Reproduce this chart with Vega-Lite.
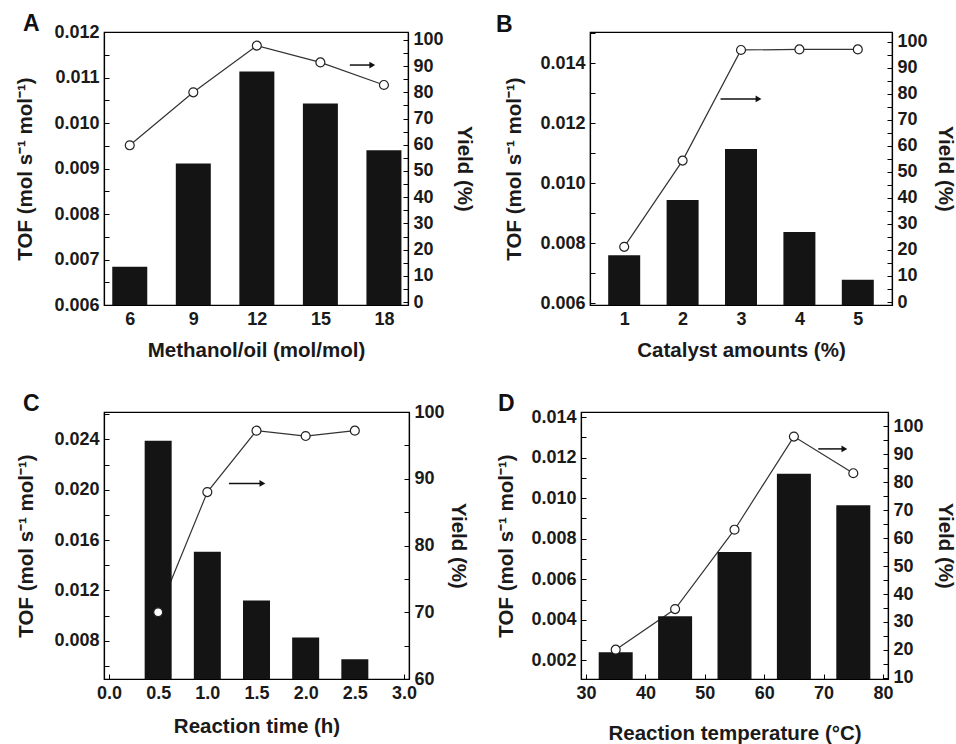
{
  "$schema": "https://vega.github.io/schema/vega-lite/v6.json",
  "padding": {"left": 15, "top": 12, "right": 5, "bottom": 5},
  "background": "white",
  "config": {
    "font": "Liberation Sans",
    "view": {"stroke": "black", "strokeWidth": 1.2},
    "axis": {
      "labelFont": "Liberation Sans", "labelFontWeight": "bold", "labelFontSize": 18, "labelColor": "#1a1a1a",
      "titleFont": "Liberation Sans", "titleFontSize": 20.5, "titleFontWeight": "bold", "titleColor": "#1a1a1a",
      "grid": false, "domainColor": "#000", "domainWidth": 1.2, "tickColor": "#000", "tickWidth": 1,
      "tickSize": -5, "labelPadding": 10, "labelFlush": false, "labelOverlap": false
    },
    "title": {"fontSize": 23, "fontWeight": "bold", "anchor": "start", "frame": "group", "color": "#111", "font": "Liberation Sans"}
  },
  "datasets": {
    "a": [
      {"x": 6, "tof": 0.00684, "yield": 59.8},
      {"x": 9, "tof": 0.00911, "yield": 80.0},
      {"x": 12, "tof": 0.01113, "yield": 97.8},
      {"x": 15, "tof": 0.01043, "yield": 91.4},
      {"x": 18, "tof": 0.0094, "yield": 82.8}
    ],
    "b": [
      {"x": 1, "tof": 0.0076, "yield": 21.2},
      {"x": 2, "tof": 0.00944, "yield": 54.3},
      {"x": 3, "tof": 0.01114, "yield": 96.8},
      {"x": 4, "tof": 0.00837, "yield": 97.0},
      {"x": 5, "tof": 0.00678, "yield": 97.0}
    ],
    "c": [
      {"x": 0.5, "tof": 0.0239, "yield": 70.0},
      {"x": 1.0, "tof": 0.01507, "yield": 88.0},
      {"x": 1.5, "tof": 0.0112, "yield": 97.2},
      {"x": 2.0, "tof": 0.00826, "yield": 96.4},
      {"x": 2.5, "tof": 0.00653, "yield": 97.2}
    ],
    "d": [
      {"x": 35, "tof": 0.0024, "yield": 20.1},
      {"x": 45, "tof": 0.00417, "yield": 34.6},
      {"x": 55, "tof": 0.00735, "yield": 63.0},
      {"x": 65, "tof": 0.0112, "yield": 96.3},
      {"x": 75, "tof": 0.00965, "yield": 83.2}
    ],
    "arrA": [{"x1": 16.39, "x2": 17.45, "y": 90.4}],
    "arrB": [{"x1": 2.65, "x2": 3.3, "y": 78}],
    "arrC": [{"x1": 1.22, "x2": 1.56, "y": 89.3}],
    "arrD": [{"x1": 69.1, "x2": 73.5, "y": 91.9}]
  },
  "spacing": 30,
  "vconcat": [
    {
      "bounds": "flush",
      "spacing": 182,
      "hconcat": [
        {
          "width": 304, "height": 273,
          "title": {"text": "A", "dx": -81, "offset": -13},
          "resolve": {"scale": {"y": "independent"}},
          "layer": [
            {
              "data": {"name": "a"},
              "mark": {"type": "line", "color": "#333", "strokeWidth": 1.2},
              "encoding": {
                "x": {"field": "x", "type": "quantitative", "scale": {"domain": [5.02, 18.9], "nice": false, "zero": false},
                  "axis": {"title": "Methanol/oil (mol/mol)", "values": [6, 7.5, 9, 10.5, 12, 13.5, 15, 16.5, 18], "labelExpr": "datum.value % 3 == 0 ? format(datum.value, '.0f') : ''", "titlePadding": 12}},
                "y": {"field": "yield", "type": "quantitative", "scale": {"domain": [-1.1, 103], "nice": false, "zero": false}, "axis": null}
              }
            },
            {
              "data": {"name": "a"},
              "mark": {"type": "bar", "color": "#141414", "size": 35, "clip": true},
              "encoding": {
                "x": {"field": "x", "type": "quantitative"},
                "y": {"field": "tof", "type": "quantitative", "scale": {"domain": [0.006, 0.012], "nice": false, "zero": false},
                  "axis": {"orient": "left", "title": "TOF (mol s⁻¹ mol⁻¹)", "values": [0.006, 0.0065, 0.007, 0.0075, 0.008, 0.0085, 0.009, 0.0095, 0.01, 0.0105, 0.011, 0.0115, 0.012],
                    "labelExpr": "abs(datum.value*1000 - round(datum.value*1000)) < 0.01 ? format(datum.value, '.3f') : ''", "titlePadding": 18}}
              }
            },
            {
              "data": {"name": "a"},
              "mark": {"type": "point", "shape": "circle", "filled": true, "fill": "white", "stroke": "#222", "strokeWidth": 1.2, "size": 80, "opacity": 1},
              "encoding": {
                "x": {"field": "x", "type": "quantitative"},
                "y": {"field": "yield", "type": "quantitative", "scale": {"domain": [-1.1, 103], "nice": false, "zero": false},
                  "axis": {"orient": "right", "title": "Yield (%)", "values": [0, 5, 10, 15, 20, 25, 30, 35, 40, 45, 50, 55, 60, 65, 70, 75, 80, 85, 90, 95, 100],
                    "labelExpr": "datum.value % 10 == 0 ? datum.label : ''", "titlePadding": 10}}
              }
            },
            {
              "data": {"name": "arrA"},
              "mark": {"type": "rule", "color": "#111", "strokeWidth": 1.5},
              "encoding": {
                "x": {"field": "x1", "type": "quantitative"},
                "x2": {"field": "x2"},
                "y": {"field": "y", "type": "quantitative", "scale": {"domain": [-1.1, 103], "nice": false, "zero": false}, "axis": null}
              }
            },
            {
              "data": {"name": "arrA"},
              "mark": {"type": "point", "shape": "triangle-right", "filled": true, "color": "#111", "size": 45, "opacity": 1},
              "encoding": {
                "x": {"field": "x2", "type": "quantitative"},
                "y": {"field": "y", "type": "quantitative", "scale": {"domain": [-1.1, 103], "nice": false, "zero": false}, "axis": null}
              }
            }
          ]
        },
        {
          "width": 302, "height": 273,
          "title": {"text": "B", "dx": -94, "offset": -13},
          "resolve": {"scale": {"y": "independent"}},
          "layer": [
            {
              "data": {"name": "b"},
              "mark": {"type": "line", "color": "#333", "strokeWidth": 1.2},
              "encoding": {
                "x": {"field": "x", "type": "quantitative", "scale": {"domain": [0.5, 5.5], "nice": false, "zero": false},
                  "axis": {"title": "Catalyst amounts (%)", "values": [1, 1.5, 2, 2.5, 3, 3.5, 4, 4.5, 5], "labelExpr": "datum.value % 1 == 0 ? format(datum.value, '.0f') : ''", "titlePadding": 12}},
                "y": {"field": "yield", "type": "quantitative", "scale": {"domain": [-1.15, 103.7], "nice": false, "zero": false}, "axis": null}
              }
            },
            {
              "data": {"name": "b"},
              "mark": {"type": "bar", "color": "#141414", "size": 32, "clip": true},
              "encoding": {
                "x": {"field": "x", "type": "quantitative"},
                "y": {"field": "tof", "type": "quantitative", "scale": {"domain": [0.00594, 0.01504], "nice": false, "zero": false},
                  "axis": {"orient": "left", "title": "TOF (mol s⁻¹ mol⁻¹)", "values": [0.006, 0.007, 0.008, 0.009, 0.01, 0.011, 0.012, 0.013, 0.014, 0.015],
                    "labelExpr": "abs(datum.value*500 - round(datum.value*500)) < 0.01 ? format(datum.value, '.3f') : ''", "titlePadding": 15}}
              }
            },
            {
              "data": {"name": "b"},
              "mark": {"type": "point", "shape": "circle", "filled": true, "fill": "white", "stroke": "#222", "strokeWidth": 1.2, "size": 80, "opacity": 1},
              "encoding": {
                "x": {"field": "x", "type": "quantitative"},
                "y": {"field": "yield", "type": "quantitative", "scale": {"domain": [-1.15, 103.7], "nice": false, "zero": false},
                  "axis": {"orient": "right", "title": "Yield (%)", "values": [0, 5, 10, 15, 20, 25, 30, 35, 40, 45, 50, 55, 60, 65, 70, 75, 80, 85, 90, 95, 100],
                    "labelExpr": "datum.value % 10 == 0 ? datum.label : ''", "titlePadding": 7}}
              }
            },
            {
              "data": {"name": "arrB"},
              "mark": {"type": "rule", "color": "#111", "strokeWidth": 1.5},
              "encoding": {
                "x": {"field": "x1", "type": "quantitative"},
                "x2": {"field": "x2"},
                "y": {"field": "y", "type": "quantitative", "scale": {"domain": [-1.15, 103.7], "nice": false, "zero": false}, "axis": null}
              }
            },
            {
              "data": {"name": "arrB"},
              "mark": {"type": "point", "shape": "triangle-right", "filled": true, "color": "#111", "size": 45, "opacity": 1},
              "encoding": {
                "x": {"field": "x2", "type": "quantitative"},
                "y": {"field": "y", "type": "quantitative", "scale": {"domain": [-1.15, 103.7], "nice": false, "zero": false}, "axis": null}
              }
            }
          ]
        }
      ]
    },
    {
      "bounds": "flush",
      "spacing": 172,
      "hconcat": [
        {
          "width": 305, "height": 267,
          "title": {"text": "C", "dx": -81, "offset": -13},
          "resolve": {"scale": {"y": "independent"}},
          "layer": [
            {
              "data": {"name": "c"},
              "mark": {"type": "line", "color": "#333", "strokeWidth": 1.2},
              "encoding": {
                "x": {"field": "x", "type": "quantitative", "scale": {"domain": [0, 3], "nice": false, "zero": false},
                  "axis": {"title": "Reaction time (h)", "values": [0, 0.25, 0.5, 0.75, 1, 1.25, 1.5, 1.75, 2, 2.25, 2.5, 2.75, 3],
                    "labelExpr": "abs(datum.value*2 - round(datum.value*2)) < 0.01 ? format(datum.value, '.1f') : ''", "titlePadding": 14}},
                "y": {"field": "yield", "type": "quantitative", "scale": {"domain": [60, 100], "nice": false, "zero": false}, "axis": null}
              }
            },
            {
              "data": {"name": "c"},
              "mark": {"type": "bar", "color": "#141414", "size": 27, "clip": true},
              "encoding": {
                "x": {"field": "x", "type": "quantitative"},
                "y": {"field": "tof", "type": "quantitative", "scale": {"domain": [0.00496, 0.02618], "nice": false, "zero": false},
                  "axis": {"orient": "left", "title": "TOF (mol s⁻¹ mol⁻¹)", "values": [0.006, 0.008, 0.01, 0.012, 0.014, 0.016, 0.018, 0.02, 0.022, 0.024, 0.026],
                    "labelExpr": "abs(datum.value*250 - round(datum.value*250)) < 0.01 ? format(datum.value, '.3f') : ''", "titlePadding": 17}}
              }
            },
            {
              "data": {"name": "c"},
              "mark": {"type": "point", "shape": "circle", "filled": true, "fill": "white", "stroke": "#222", "strokeWidth": 1.2, "size": 80, "opacity": 1},
              "encoding": {
                "x": {"field": "x", "type": "quantitative"},
                "y": {"field": "yield", "type": "quantitative", "scale": {"domain": [60, 100], "nice": false, "zero": false},
                  "axis": {"orient": "right", "title": "Yield (%)", "values": [60, 65, 70, 75, 80, 85, 90, 95, 100],
                    "labelExpr": "datum.value % 10 == 0 ? datum.label : ''", "titlePadding": 3}}
              }
            },
            {
              "data": {"name": "arrC"},
              "mark": {"type": "rule", "color": "#111", "strokeWidth": 1.5},
              "encoding": {
                "x": {"field": "x1", "type": "quantitative"},
                "x2": {"field": "x2"},
                "y": {"field": "y", "type": "quantitative", "scale": {"domain": [60, 100], "nice": false, "zero": false}, "axis": null}
              }
            },
            {
              "data": {"name": "arrC"},
              "mark": {"type": "point", "shape": "triangle-right", "filled": true, "color": "#111", "size": 45, "opacity": 1},
              "encoding": {
                "x": {"field": "x2", "type": "quantitative"},
                "y": {"field": "y", "type": "quantitative", "scale": {"domain": [60, 100], "nice": false, "zero": false}, "axis": null}
              }
            }
          ]
        },
        {
          "width": 307, "height": 267,
          "title": {"text": "D", "dx": -83, "offset": -13},
          "resolve": {"scale": {"y": "independent"}},
          "layer": [
            {
              "data": {"name": "d"},
              "mark": {"type": "line", "color": "#333", "strokeWidth": 1.2},
              "encoding": {
                "x": {"field": "x", "type": "quantitative", "scale": {"domain": [30, 80], "nice": false, "zero": false},
                  "axis": {"title": "Reaction temperature (°C)", "values": [30, 35, 40, 45, 50, 55, 60, 65, 70, 75, 80],
                    "labelExpr": "datum.value % 10 == 0 ? datum.label : ''", "titlePadding": 21}},
                "y": {"field": "yield", "type": "quantitative", "scale": {"domain": [9.6, 105.1], "nice": false, "zero": false}, "axis": null}
              }
            },
            {
              "data": {"name": "d"},
              "mark": {"type": "bar", "color": "#141414", "size": 34, "clip": true},
              "encoding": {
                "x": {"field": "x", "type": "quantitative"},
                "y": {"field": "tof", "type": "quantitative", "scale": {"domain": [0.00108, 0.01425], "nice": false, "zero": false},
                  "axis": {"orient": "left", "title": "TOF (mol s⁻¹ mol⁻¹)", "values": [0.002, 0.003, 0.004, 0.005, 0.006, 0.007, 0.008, 0.009, 0.01, 0.011, 0.012, 0.013, 0.014],
                    "labelExpr": "abs(datum.value*500 - round(datum.value*500)) < 0.01 ? format(datum.value, '.3f') : ''", "titlePadding": 14}}
              }
            },
            {
              "data": {"name": "d"},
              "mark": {"type": "point", "shape": "circle", "filled": true, "fill": "white", "stroke": "#222", "strokeWidth": 1.2, "size": 80, "opacity": 1},
              "encoding": {
                "x": {"field": "x", "type": "quantitative"},
                "y": {"field": "yield", "type": "quantitative", "scale": {"domain": [9.6, 105.1], "nice": false, "zero": false},
                  "axis": {"orient": "right", "title": "Yield (%)", "values": [10, 15, 20, 25, 30, 35, 40, 45, 50, 55, 60, 65, 70, 75, 80, 85, 90, 95, 100, 105],
                    "labelExpr": "datum.value % 10 == 0 && datum.value <= 100 ? datum.label : ''", "titlePadding": 11}}
              }
            },
            {
              "data": {"name": "arrD"},
              "mark": {"type": "rule", "color": "#111", "strokeWidth": 1.5},
              "encoding": {
                "x": {"field": "x1", "type": "quantitative"},
                "x2": {"field": "x2"},
                "y": {"field": "y", "type": "quantitative", "scale": {"domain": [9.6, 105.1], "nice": false, "zero": false}, "axis": null}
              }
            },
            {
              "data": {"name": "arrD"},
              "mark": {"type": "point", "shape": "triangle-right", "filled": true, "color": "#111", "size": 45, "opacity": 1},
              "encoding": {
                "x": {"field": "x2", "type": "quantitative"},
                "y": {"field": "y", "type": "quantitative", "scale": {"domain": [9.6, 105.1], "nice": false, "zero": false}, "axis": null}
              }
            }
          ]
        }
      ]
    }
  ]
}
